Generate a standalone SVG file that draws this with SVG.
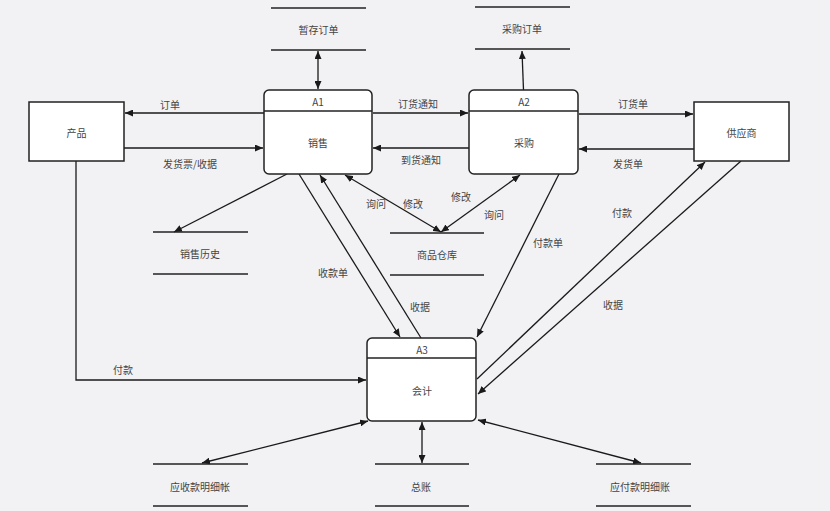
<svg xmlns="http://www.w3.org/2000/svg" width="830" height="511" viewBox="0 0 830 511">
<defs>
<marker id="ah" viewBox="0 0 8 7" refX="8" refY="3.5" markerWidth="8" markerHeight="7" markerUnits="userSpaceOnUse" orient="auto-start-reverse">
<path d="M0,0 L8,3.5 L0,7 z" fill="#1a1a1a"/>
</marker>
<style>
text{font-family:"Noto Sans CJK SC","Liberation Sans",sans-serif;font-size:10px;fill:#444;text-anchor:middle;dominant-baseline:central}
.ent{fill:#fff;stroke:#222;stroke-width:1.5}
.proc{fill:#fff;stroke:#222;stroke-width:1.5}
.div{stroke:#222;stroke-width:1.3}
.store{stroke:#222;stroke-width:1.4;fill:none}
.c{stroke:#1a1a1a;stroke-width:1.3;fill:none}
.a{marker-end:url(#ah)}
.b{marker-start:url(#ah);marker-end:url(#ah)}
</style>
</defs>
<rect x="0" y="0" width="830" height="511" fill="#f2f2f4"/>

<g id="connectors">
<path class="c b" d="M318,51 L318,89"/>
<path class="c a" d="M264,113 L125,113"/>
<path class="c a" d="M124,148 L263,148"/>
<path class="c a" d="M287,174 L174,232"/>
<path class="c a" d="M523.5,90 L522,51"/>
<path class="c a" d="M373,113 L468,113"/>
<path class="c a" d="M469,148 L373,148"/>
<path class="c a" d="M579,114 L693,114"/>
<path class="c a" d="M694,149 L579,149"/>
<path class="c b" d="M345,175 L441,232"/>
<path class="c b" d="M520,175 L441,232"/>
<path class="c a" d="M299,174 L400,337"/>
<path class="c a" d="M421,338 L320,175"/>
<path class="c a" d="M559,174 L477,337"/>
<path class="c a" d="M76,161 L76,380 L366,380"/>
<path class="c a" d="M477,379 L705,162"/>
<path class="c a" d="M741,161 L478,394"/>
<path class="c b" d="M368,421 L202,463"/>
<path class="c b" d="M422,422 L422,463"/>
<path class="c b" d="M478,420 L641,463"/>
</g>

<g id="labels">
<text x="170" y="104">订单</text>
<text x="190" y="163">发货票/收据</text>
<text x="418" y="103">订货通知</text>
<text x="421" y="159">到货通知</text>
<text x="633" y="103">订货单</text>
<text x="628" y="163">发货单</text>
<text x="376" y="203">询问</text>
<text x="413" y="203">修改</text>
<text x="461" y="196">修改</text>
<text x="494" y="214">询问</text>
<text x="333" y="272">收款单</text>
<text x="420" y="306">收据</text>
<text x="548" y="242">付款单</text>
<text x="123" y="369">付款</text>
<text x="622" y="212">付款</text>
<text x="613" y="304">收据</text>
</g>

<g id="product">
<rect class="ent" x="29" y="102" width="95" height="59"/>
<text x="76.5" y="132">产品</text>
</g>

<g id="supplier">
<rect class="ent" x="694" y="102" width="95" height="59"/>
<text x="741.5" y="132">供应商</text>
</g>

<g id="A1">
<rect class="proc" x="264" y="90" width="108" height="84" rx="5"/>
<line class="div" x1="264" y1="111" x2="372" y2="111"/>
<text x="318" y="101">A1</text>
<text x="318" y="142">销售</text>
</g>

<g id="A2">
<rect class="proc" x="469" y="90" width="109" height="84" rx="5"/>
<line class="div" x1="469" y1="111" x2="578" y2="111"/>
<text x="524" y="101">A2</text>
<text x="524" y="142">采购</text>
</g>

<g id="A3">
<rect class="proc" x="367" y="338" width="109" height="83" rx="5"/>
<line class="div" x1="367" y1="358" x2="476" y2="358"/>
<text x="422" y="349">A3</text>
<text x="422" y="390">会计</text>
</g>

<g id="store-temp-order">
<line class="store" x1="271" y1="8" x2="366" y2="8"/>
<line class="store" x1="271" y1="50" x2="366" y2="50"/>
<text x="318.5" y="29">暂存订单</text>
</g>

<g id="store-purchase-order">
<line class="store" x1="475" y1="7" x2="570" y2="7"/>
<line class="store" x1="475" y1="49" x2="570" y2="49"/>
<text x="522" y="28">采购订单</text>
</g>

<g id="store-sales-history">
<line class="store" x1="153" y1="232" x2="248" y2="232"/>
<line class="store" x1="153" y1="274" x2="248" y2="274"/>
<text x="200" y="253">销售历史</text>
</g>

<g id="store-warehouse">
<line class="store" x1="390" y1="233" x2="484" y2="233"/>
<line class="store" x1="390" y1="275" x2="484" y2="275"/>
<text x="437" y="254">商品仓库</text>
</g>

<g id="store-receivable">
<line class="store" x1="153" y1="464" x2="248" y2="464"/>
<line class="store" x1="153" y1="506" x2="248" y2="506"/>
<text x="200" y="486">应收款明细帐</text>
</g>

<g id="store-ledger">
<line class="store" x1="375" y1="464" x2="469" y2="464"/>
<line class="store" x1="375" y1="506" x2="469" y2="506"/>
<text x="421" y="486">总账</text>
</g>

<g id="store-payable">
<line class="store" x1="596" y1="464" x2="691" y2="464"/>
<line class="store" x1="596" y1="506" x2="691" y2="506"/>
<text x="640" y="486">应付款明细账</text>
</g>
</svg>
